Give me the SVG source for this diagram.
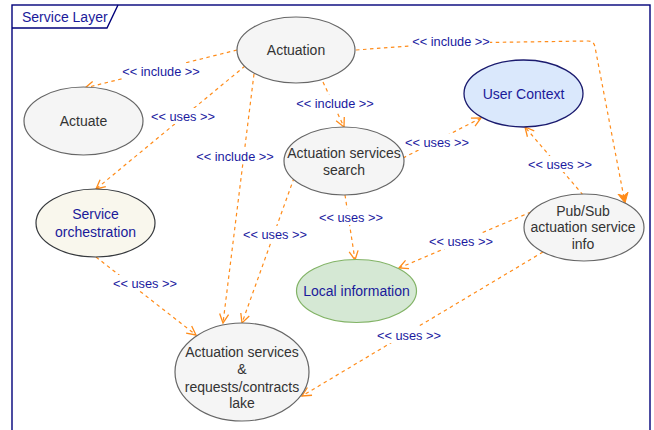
<svg xmlns="http://www.w3.org/2000/svg" width="654" height="430" viewBox="0 0 654 430">
<defs>
<style>
.frame{fill:none;stroke:#00007a;stroke-width:1.4}
.n{font-family:"Liberation Sans",Arial,sans-serif;font-size:14px;text-anchor:middle;fill:#333333}
.nb{font-family:"Liberation Sans",Arial,sans-serif;font-size:14px;text-anchor:middle;fill:#1a1a9a}
.gray{fill:#f5f5f5;stroke:#666666;stroke-width:1.2}
.e{fill:none;stroke:#ff8c1a;stroke-width:1.2;stroke-dasharray:3.5,3.5}
.lbl{font-family:"Liberation Sans",Arial,sans-serif;font-size:12.8px;text-anchor:middle;fill:#1a1aa0}
.lb{fill:#ffffff}
</style>
<marker id="open" markerWidth="12" markerHeight="12" refX="10" refY="5" orient="auto" markerUnits="userSpaceOnUse" viewBox="0 0 12 10">
<path d="M1,0.5 L10,5 L1,9.5" fill="none" stroke="#ff8c1a" stroke-width="1.3"/>
</marker>
<marker id="block" markerWidth="12" markerHeight="12" refX="10" refY="5" orient="auto" markerUnits="userSpaceOnUse" viewBox="0 0 12 10">
<path d="M0,0 L10,5 L0,10 L3,5 Z" fill="#ff8c1a" stroke="#ff8c1a" stroke-width="1"/>
</marker>
</defs>

<g id="frame">
<rect class="frame" x="12" y="5" width="638" height="440"/>
<path class="frame" d="M12,28 L107,28 L118,5"/>
<text x="22" y="21.5" style="font-family:'Liberation Sans',Arial,sans-serif;font-size:14px;fill:#1a1a9a">Service Layer</text>
</g>

<g id="connectors">
<path class="e" d="M237,50 L85,88" marker-end="url(#open)"/>
<path class="e" d="M245,66 L96,189" marker-end="url(#open)"/>
<path class="e" d="M254,74 L223,323" marker-end="url(#open)"/>
<path class="e" d="M323,82 L344,127" marker-end="url(#open)"/>
<path class="e" d="M356,50 L451,43 L588,41 Q594,41 595,47 L625,203" marker-end="url(#block)"/>
<path class="e" d="M403,158 L481,118" marker-end="url(#open)"/>
<path class="e" d="M345,195 L355,260" marker-end="url(#open)"/>
<path class="e" d="M294,178 L242,323" marker-end="url(#open)"/>
<path class="e" d="M583,195 L525,127" marker-end="url(#open)"/>
<path class="e" d="M531,212 L399,268" marker-end="url(#open)"/>
<path class="e" d="M543,252 L302,396" marker-end="url(#open)"/>
<path class="e" d="M96,257 L196,335" marker-end="url(#open)"/>

<rect class="lb" x="122" y="63" width="78" height="16"/>
<text class="lbl" x="161" y="75.5">&lt;&lt; include &gt;&gt;</text>
<rect class="lb" x="151" y="108" width="64" height="16"/>
<text class="lbl" x="183" y="120.5">&lt;&lt; uses &gt;&gt;</text>
<rect class="lb" x="196" y="148" width="78" height="16"/>
<text class="lbl" x="235" y="160.5">&lt;&lt; include &gt;&gt;</text>
<rect class="lb" x="296" y="95" width="78" height="16"/>
<text class="lbl" x="335" y="107.5">&lt;&lt; include &gt;&gt;</text>
<rect class="lb" x="412" y="33" width="78" height="16"/>
<text class="lbl" x="451" y="45.5">&lt;&lt; include &gt;&gt;</text>
<rect class="lb" x="405" y="134" width="64" height="16"/>
<text class="lbl" x="437" y="146.5">&lt;&lt; uses &gt;&gt;</text>
<rect class="lb" x="319" y="209" width="64" height="16"/>
<text class="lbl" x="351" y="221.5">&lt;&lt; uses &gt;&gt;</text>
<rect class="lb" x="243" y="226" width="64" height="16"/>
<text class="lbl" x="275" y="238.5">&lt;&lt; uses &gt;&gt;</text>
<rect class="lb" x="528" y="156" width="64" height="16"/>
<text class="lbl" x="560" y="168.5">&lt;&lt; uses &gt;&gt;</text>
<rect class="lb" x="429" y="233" width="64" height="16"/>
<text class="lbl" x="461" y="245.5">&lt;&lt; uses &gt;&gt;</text>
<rect class="lb" x="377" y="327" width="64" height="16"/>
<text class="lbl" x="409" y="339.5">&lt;&lt; uses &gt;&gt;</text>
<rect class="lb" x="113" y="275" width="64" height="16"/>
<text class="lbl" x="145" y="287.5">&lt;&lt; uses &gt;&gt;</text>
</g>

<g id="actuation">
<ellipse class="gray" cx="296" cy="50" rx="59" ry="33"/>
<text class="n" x="296" y="55">Actuation</text>
</g>
<g id="actuate">
<ellipse class="gray" cx="83.5" cy="121" rx="59.5" ry="34"/>
<text class="n" x="83.5" y="126">Actuate</text>
</g>
<g id="service-orchestration">
<ellipse cx="95.5" cy="223" rx="59.5" ry="34" fill="#f9f7ed" stroke="#36393d" stroke-width="1.2"/>
<text class="nb" x="95.5" y="219">Service</text>
<text class="nb" x="95.5" y="237">orchestration</text>
</g>
<g id="search">
<ellipse class="gray" cx="344" cy="161" rx="60" ry="34"/>
<text class="n" x="344" y="158">Actuation services</text>
<text class="n" x="344" y="175">search</text>
</g>
<g id="user-context">
<ellipse cx="523.5" cy="93.5" rx="59.5" ry="33.5" fill="#dae8fc" stroke="#1a1a6e" stroke-width="1.3"/>
<text class="nb" x="523.5" y="98.5">User Context</text>
</g>
<g id="local-information">
<ellipse cx="356.5" cy="291" rx="60" ry="31.5" fill="#d5e8d4" stroke="#82b366" stroke-width="1.2"/>
<text class="nb" x="356.5" y="296">Local information</text>
</g>
<g id="pubsub">
<ellipse class="gray" cx="584" cy="227.5" rx="60" ry="33.5"/>
<text class="n" x="583" y="216">Pub/Sub</text>
<text class="n" x="583" y="232">actuation service</text>
<text class="n" x="583" y="249">info</text>
</g>
<g id="lake">
<ellipse class="gray" cx="242" cy="372" rx="67" ry="49"/>
<text class="n" x="242" y="357">Actuation services</text>
<text class="n" x="242" y="374">&amp;</text>
<text class="n" x="242" y="392">requests/contracts</text>
<text class="n" x="242" y="408">lake</text>
</g>
</svg>
